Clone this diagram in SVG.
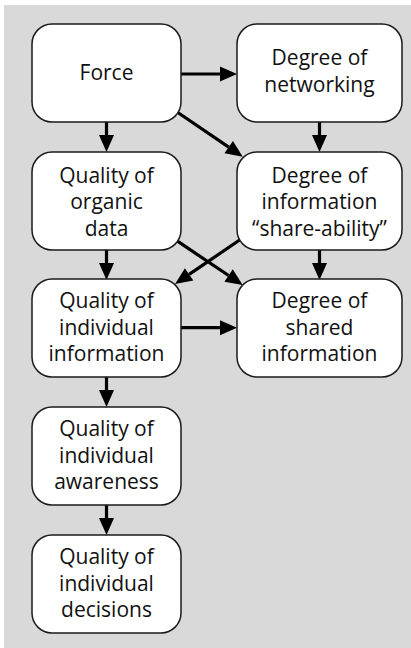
<svg xmlns="http://www.w3.org/2000/svg" width="411" height="648" viewBox="0 0 411 648">
<style>
.box{fill:#fff;stroke:#1a1a1a;stroke-width:1.5}
.t{font-family:"Open Sans","Noto Sans",sans-serif;font-size:21px;fill:#111;text-anchor:middle}
.c{stroke:#000;stroke-width:3.2;fill:none;marker-end:url(#ah)}
</style>
<defs>
<marker id="ah" markerUnits="userSpaceOnUse" markerWidth="17" markerHeight="15" refX="0" refY="7.5" viewBox="0 0 17 15" orient="auto" overflow="visible">
<path d="M0,0 L17,7.5 L0,15 z" fill="#000"/>
</marker>
</defs>
<rect x="4" y="5" width="407" height="643" fill="#d9d9d9"/>
<g id="connectors">
<line class="c" x1="181" y1="74" x2="220" y2="74"/>
<line class="c" x1="106.5" y1="122" x2="106.5" y2="135"/>
<line class="c" x1="176.7" y1="111.7" x2="228.7" y2="147.1"/>
<line class="c" x1="319.5" y1="122" x2="319.5" y2="135"/>
<line class="c" x1="106.5" y1="250" x2="106.5" y2="263"/>
<line class="c" x1="176.7" y1="240.7" x2="228.6" y2="275.5"/>
<line class="c" x1="240.7" y1="239.3" x2="189.1" y2="274.4"/>
<line class="c" x1="319.5" y1="250" x2="319.5" y2="263"/>
<line class="c" x1="181" y1="327.7" x2="220" y2="327.7"/>
<line class="c" x1="106.5" y1="377" x2="106.5" y2="390"/>
<line class="c" x1="106.5" y1="505" x2="106.5" y2="518"/>
</g>
<g id="force">
<rect class="box" x="32" y="24" width="149" height="98" rx="20"/>
<text class="t" x="106.5" y="80">Force</text>
</g>
<g id="networking">
<rect class="box" x="237" y="24" width="165" height="98" rx="20"/>
<text class="t" x="319.5" y="65">Degree of</text>
<text class="t" x="319.5" y="92">networking</text>
</g>
<g id="organic">
<rect class="box" x="32" y="152" width="149" height="98" rx="20"/>
<text class="t" x="106.5" y="182.5">Quality of</text>
<text class="t" x="106.5" y="209">organic</text>
<text class="t" x="106.5" y="235.5">data</text>
</g>
<g id="shareability">
<rect class="box" x="237" y="152" width="165" height="98" rx="20"/>
<text class="t" x="319.5" y="182.5">Degree of</text>
<text class="t" x="319.5" y="209">information</text>
<text class="t" x="319.5" y="235.5">“share-ability”</text>
</g>
<g id="indinfo">
<rect class="box" x="32" y="279" width="149" height="98" rx="20"/>
<text class="t" x="106.5" y="308">Quality of</text>
<text class="t" x="106.5" y="334.5">individual</text>
<text class="t" x="106.5" y="361">information</text>
</g>
<g id="shared">
<rect class="box" x="237" y="279" width="165" height="98" rx="20"/>
<text class="t" x="319.5" y="308">Degree of</text>
<text class="t" x="319.5" y="334.5">shared</text>
<text class="t" x="319.5" y="361">information</text>
</g>
<g id="awareness">
<rect class="box" x="32" y="407" width="149" height="98" rx="20"/>
<text class="t" x="106.5" y="436">Quality of</text>
<text class="t" x="106.5" y="462.5">individual</text>
<text class="t" x="106.5" y="489">awareness</text>
</g>
<g id="decisions">
<rect class="box" x="32" y="535" width="149" height="98" rx="20"/>
<text class="t" x="106.5" y="564">Quality of</text>
<text class="t" x="106.5" y="590.5">individual</text>
<text class="t" x="106.5" y="617">decisions</text>
</g>
</svg>
